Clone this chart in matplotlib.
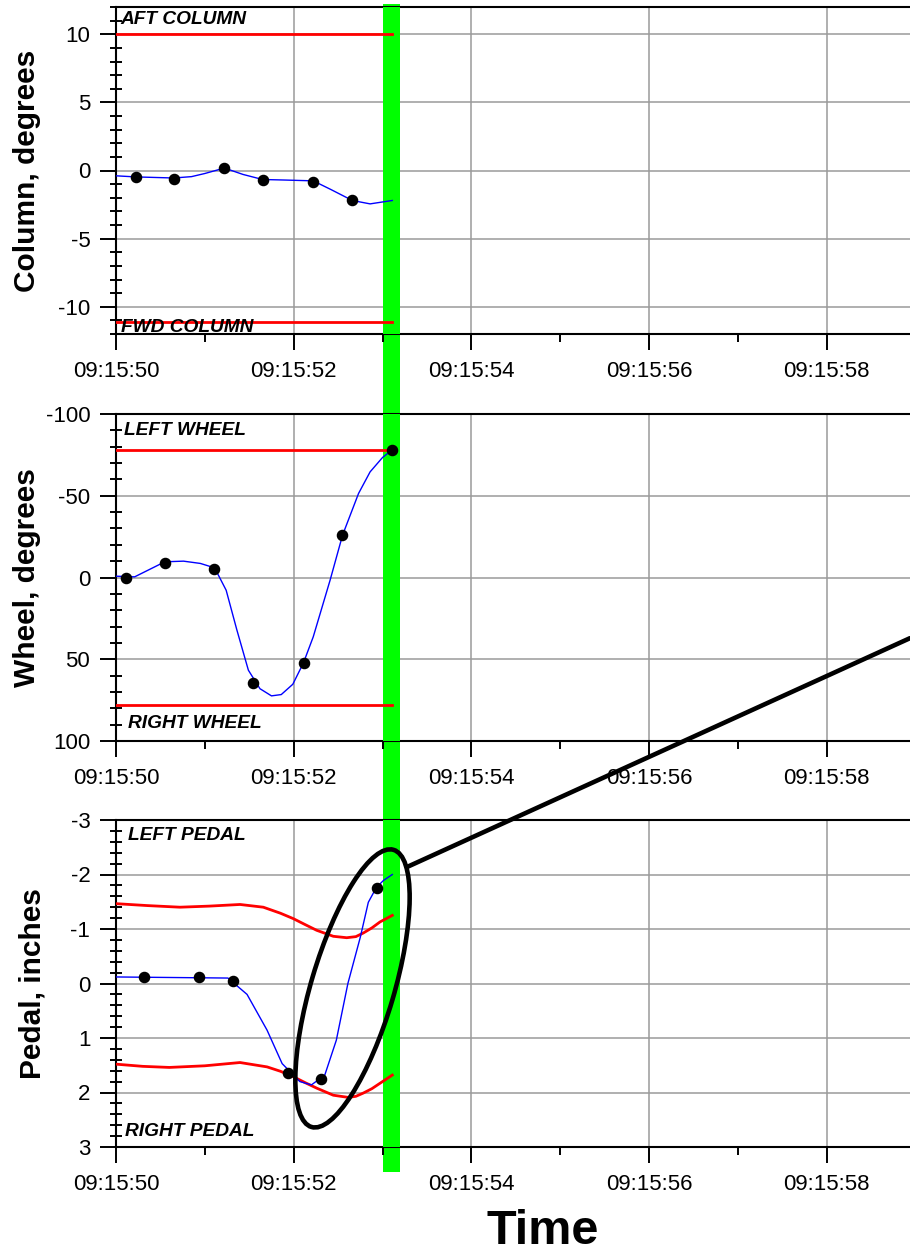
import matplotlib
matplotlib.use("Agg")
import matplotlib.pyplot as plt
from matplotlib.ticker import MultipleLocator, FuncFormatter
from matplotlib.patches import Ellipse, ConnectionPatch, Rectangle
from matplotlib.transforms import ScaledTranslation, blended_transform_factory

plt.rcParams['font.family'] = ['Liberation Sans', 'DejaVu Sans']
plt.rcParams['axes.unicode_minus'] = False

# ---------------- data (time = seconds past 09:15:00) ----------------
col_pt_t = [50.22, 50.65, 51.22, 51.65, 52.22, 52.66]
col_pt_v = [-0.49, -0.59, 0.15, -0.69, -0.81, -2.2]
col_line_t = [50.0, 50.22, 50.65, 50.85, 51.0, 51.22, 51.43, 51.65, 51.9, 52.22, 52.42, 52.66, 52.86, 53.11]
col_line_v = [-0.39, -0.47, -0.55, -0.45, -0.22, 0.18, -0.29, -0.66, -0.70, -0.76, -1.4, -2.2, -2.45, -2.2]
col_aft_limit = 10.0
col_fwd_limit = -11.1

wh_pt_t = [50.113, 50.548, 51.107, 51.542, 52.113, 52.547, 53.110]
wh_pt_v = [0.0, -8.6, -5.5, 64.3, 52.2, -25.9, -78.1]
wh_line_t = [50.0, 50.21, 50.55, 50.76, 50.95, 51.11, 51.24, 51.36, 51.49, 51.62, 51.75, 51.86,
             51.99, 52.11, 52.22, 52.41, 52.55, 52.73, 52.86, 53.0, 53.11]
wh_line_v = [-0.8, -0.4, -9.6, -10.0, -8.6, -5.9, 7.8, 32.0, 56.7, 68.0, 72.4, 71.6,
             65.3, 52.2, 36.3, 1.6, -25.9, -51.4, -64.6, -73.4, -78.1]
wh_left_limit = -78.0
wh_right_limit = 78.0

pd_pt_t = [50.312, 50.934, 51.314, 51.939, 52.307, 52.934]
pd_pt_v = [-0.12, -0.12, -0.05, 1.64, 1.75, -1.76]
pd_line_t = [50.0, 51.26, 51.475, 51.70, 51.87, 52.07, 52.20, 52.35, 52.48, 52.61, 52.75, 52.84, 52.93, 53.01, 53.11]
pd_line_v = [-0.12, -0.10, 0.2, 0.855, 1.47, 1.80, 1.86, 1.68, 1.04, 0.0, -0.85, -1.49, -1.76, -1.89, -2.0]
pd_left_t = [50.0, 50.35, 50.72, 51.05, 51.396, 51.658, 51.85, 51.996, 52.13, 52.259, 52.446,
             52.597, 52.70, 52.784, 52.88, 52.972, 53.110]
pd_left_v = [-1.465, -1.43, -1.40, -1.42, -1.45, -1.40, -1.29, -1.19, -1.08, -0.976, -0.866,
             -0.84, -0.86, -0.927, -1.02, -1.13, -1.25]
pd_right_t = [50.0, 50.30, 50.60, 51.0, 51.396, 51.70, 51.85, 51.996, 52.13, 52.259, 52.446,
              52.615, 52.70, 52.784, 52.88, 52.972, 53.110]
pd_right_v = [1.48, 1.52, 1.54, 1.51, 1.45, 1.53, 1.61, 1.71, 1.82, 1.92, 2.05,
              2.09, 2.07, 2.01, 1.93, 1.83, 1.68]

limit_t = [50.0, 53.11]
highlight_t = [53.005, 53.197]
x_min, x_max = 50.0, 58.937

ellipse_center = (52.662, 0.09)
callout_start = (53.272, -2.135)
callout_end_wheel = 37.1

# ---------------- figure ----------------
W, H = 910, 1253
fig = plt.figure(figsize=(W / 100, H / 100), dpi=100)

def frac_axes(top, bottom):
    return [116 / W, (H - bottom) / H, (W - 116) / W, (bottom - top) / H]

ax1 = fig.add_axes(frac_axes(7, 334))
ax2 = fig.add_axes(frac_axes(414, 741))
ax3 = fig.add_axes(frac_axes(820, 1147))

tfmt = FuncFormatter(lambda x, p: f"09:15:{x:02.0f}")

def style(ax, ylim, major, minor):
    ax.set_xlim(x_min, x_max)
    ax.set_ylim(*ylim)
    ax.xaxis.set_major_locator(MultipleLocator(2))
    ax.xaxis.set_minor_locator(MultipleLocator(1))
    ax.xaxis.set_major_formatter(tfmt)
    ax.yaxis.set_major_locator(MultipleLocator(major))
    ax.yaxis.set_minor_locator(MultipleLocator(minor))
    ax.grid(which='major', color='#9a9a9a', lw=1.1, zorder=1)
    ax.spines['right'].set_visible(False)
    for s in ['left', 'top', 'bottom']:
        ax.spines[s].set_linewidth(1.5)
        ax.spines[s].set_zorder(1.55)
    ax.tick_params(which='major', direction='out', length=11.5, width=1.4,
                   labelsize=16, pad=7)
    ax.tick_params(axis='x', which='major', pad=8)
    ax.tick_params(which='minor', direction='inout', length=8, width=1.4)
    ax.tick_params(axis='x', which='minor', direction='out', length=6)
    ax.axvspan(highlight_t[0], highlight_t[1], color='#00ff00', lw=0, zorder=1.6)

style(ax1, (-12, 12), 5, 1)
style(ax2, (100, -100), 50, 10)
style(ax3, (3, -3), 1, 0.2)

# green band across the gaps
gtr = blended_transform_factory(ax3.transData, fig.transFigure)
fig.add_artist(Rectangle((highlight_t[0], (H - 1172) / H), highlight_t[1] - highlight_t[0],
                         (1172 - 4) / H, transform=gtr, color='#00ff00', lw=0, zorder=-1))

red = '#ff0000'
blue = '#0000ff'
# Column
ax1.plot(limit_t, [col_aft_limit] * 2, color=red, lw=2.0, zorder=2)
ax1.plot(limit_t, [col_fwd_limit] * 2, color=red, lw=2.0, zorder=2)
ax1.plot(col_line_t, col_line_v, color=blue, lw=1.0, zorder=2.5)
ax1.plot(col_pt_t, col_pt_v, 'o', color='black', ms=7.3, zorder=3)
# Wheel
ax2.plot(limit_t, [wh_left_limit] * 2, color=red, lw=2.0, zorder=2)
ax2.plot(limit_t, [wh_right_limit] * 2, color=red, lw=2.0, zorder=2)
ax2.plot(wh_line_t, wh_line_v, color=blue, lw=1.0, zorder=2.5)
ax2.plot(wh_pt_t, wh_pt_v, 'o', color='black', ms=7.3, zorder=3)
# Pedal
ax3.plot(pd_left_t, pd_left_v, color=red, lw=2.0, zorder=2)
ax3.plot(pd_right_t, pd_right_v, color=red, lw=2.0, zorder=2)
ax3.plot(pd_line_t, pd_line_v, color=blue, lw=1.0, zorder=2.5)
ax3.plot(pd_pt_t, pd_pt_v, 'o', color='black', ms=7.3, zorder=3)

lab = dict(fontsize=13.8, fontweight='bold', fontstyle='italic', ha='left', va='center', zorder=4)
ax1.text(0.006, 0.963, 'AFT COLUMN', transform=ax1.transAxes, **lab)
ax1.text(0.006, 0.021, 'FWD COLUMN', transform=ax1.transAxes, **lab)
ax2.text(0.010, 0.951, 'LEFT WHEEL', transform=ax2.transAxes, **lab)
ax2.text(0.015, 0.052, 'RIGHT WHEEL', transform=ax2.transAxes, **lab)
ax3.text(0.015, 0.954, 'LEFT PEDAL', transform=ax3.transAxes, **lab)
ax3.text(0.011, 0.046, 'RIGHT PEDAL', transform=ax3.transAxes, **lab)

yl = dict(fontsize=21.5, fontweight='bold', rotation=90, ha='center', va='center')
fig.text(27.5 / W, 1 - 170.5 / H, 'Column, degrees', **yl)
fig.text(27.5 / W, 1 - 577.5 / H, 'Wheel, degrees', **yl)
fig.text(32.5 / W, 1 - 983.5 / H, 'Pedal, inches', **yl)
fig.text(543 / W, 1 - 1232 / H, 'Time', fontsize=35, fontweight='bold', ha='center', va='center')

# callout ellipse and line
ell = Ellipse((0, 0), 0.83, 2.89, angle=-16.5, fill=False, ec='black', lw=3.3,
              transform=fig.dpi_scale_trans + ScaledTranslation(ellipse_center[0], ellipse_center[1], ax3.transData),
              zorder=5)
fig.add_artist(ell)
cp = ConnectionPatch(xyA=callout_start, coordsA=ax3.transData,
                     xyB=(x_max, callout_end_wheel), coordsB=ax2.transData,
                     color='black', lw=3.3, zorder=6)
fig.add_artist(cp)

fig.savefig('out.png', dpi=100)
